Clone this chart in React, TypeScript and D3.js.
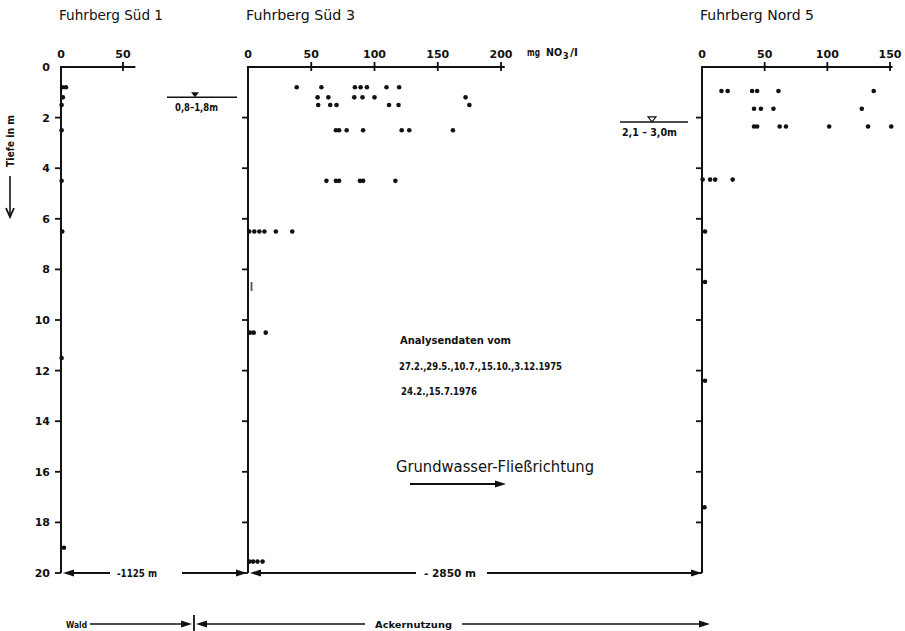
import React, { useEffect, useRef } from 'react';
import * as d3 from 'd3';

// depth axis (m)
const depthTicks = [0, 2, 4, 6, 8, 10, 12, 14, 16, 18, 20];

// NO3 axis ticks per well (mg NO3/l)
const sued1Ticks = [0, 50];
const sued3Ticks = [0, 50, 100, 150, 200];
const nord5Ticks = [0, 50, 100, 150];

// measurements as [depth in m, mg NO3/l]
const sued1Points: [number, number][] = [
  [0.8, 4], [0.8, 1], [1.2, 1.5], [1.5, 0.5], [2.5, 0.5], [4.5, 0.5], [6.5, 1], [11.5, 0.5], [19.0, 2.4],
];
const sued3Points: [number, number][] = [
  [0.8, 38.5], [0.8, 58], [0.8, 84.5], [0.8, 89], [0.8, 94], [0.8, 109.5], [0.8, 119.5],
  [1.2, 55], [1.2, 63.5], [1.2, 84], [1.2, 90.5], [1.2, 100], [1.2, 172],
  [1.5, 55.5], [1.5, 65], [1.5, 70], [1.5, 111.5], [1.5, 119], [1.5, 175],
  [2.5, 69.5], [2.5, 72], [2.5, 78], [2.5, 91], [2.5, 121.5], [2.5, 127.5], [2.5, 162],
  [4.5, 62], [4.5, 69.5], [4.5, 72], [4.5, 88.5], [4.5, 91], [4.5, 116.5],
  [6.5, 1], [6.5, 5], [6.5, 9], [6.5, 13], [6.5, 22], [6.5, 35],
  [10.5, 1.5], [10.5, 4.5], [10.5, 14],
  [19.55, 1], [19.55, 4], [19.55, 7.5], [19.55, 11.5],
];
// the faint vertical mark in Süd 3 around 8.5–8.9 m, [from depth, to depth, mg NO3/l]
const sued3Mark: [number, number, number] = [8.5, 8.85, 2.8];

const nord5Points: [number, number][] = [
  [0.95, 15.5], [0.95, 20.5], [0.95, 40], [0.95, 44], [0.95, 61], [0.95, 137],
  [1.65, 41.5], [1.65, 47], [1.65, 57], [1.65, 127.5],
  [2.35, 41.5], [2.35, 44], [2.35, 62], [2.35, 67], [2.35, 101.5], [2.35, 132.5], [2.35, 151],
  [4.45, 0.5], [4.45, 6.5], [4.45, 10.5], [4.45, 24.5],
  [6.5, 2.4], [8.5, 2.4], [12.4, 2.4], [17.4, 2],
];

const wellNames = ['Fuhrberg Süd 1', 'Fuhrberg Süd 3', 'Fuhrberg Nord 5'];
const waterLevels = ['0,8–1,8m', '2,1 – 3,0m'];
const waterLevelDepths = [1.2, 2.17];
const distances = ['-1125 m', '- 2850 m'];
const landUse = ['Wald', 'Ackernutzung'];
const noteLines = ['Analysendaten vom', '27.2.,29.5.,10.7.,15.10.,3.12.1975', '24.2.,15.7.1976'];
const flowLabel = 'Grundwasser-Fließrichtung';

const INK = '#111';
const FONT = "'DejaVu Sans', sans-serif";

const App = () => {
  const svgRef = useRef<SVGSVGElement>(null);

  useEffect(() => {
    const svg = d3.select(svgRef.current);
    svg.selectAll('*').remove();

    const y = d3.scaleLinear().domain([0, 20]).range([67, 573]);
    const xS1 = d3.scaleLinear().domain([0, 60]).range([61, 135.4]);
    const xS3 = d3.scaleLinear().domain([0, 203]).range([248, 504.8]);
    const xN5 = d3.scaleLinear().domain([0, 152]).range([702, 892.5]);

    const text = (x: number, yy: number, s: string, size: number, opts: any = {}) => {
      const t = svg.append('text')
        .attr('x', x).attr('y', yy)
        .attr('font-family', FONT)
        .attr('font-size', size)
        .attr('font-weight', opts.bold ? 'bold' : 'normal')
        .attr('fill', INK)
        .attr('text-anchor', opts.anchor || 'start')
        .text(s);
      if (opts.width) t.attr('textLength', opts.width).attr('lengthAdjust', 'spacingAndGlyphs');
      return t;
    };

    const line = (x1: number, y1: number, x2: number, y2: number, w = 1.8) =>
      svg.append('line')
        .attr('x1', x1).attr('y1', y1).attr('x2', x2).attr('y2', y2)
        .attr('stroke', INK).attr('stroke-width', w);

    // filled arrow head with its tip at (x, yy); dir = 1 points right, -1 points left
    const head = (x: number, yy: number, dir: number) =>
      svg.append('polygon')
        .attr('points', [[x, yy], [x - dir * 11, yy - 3.5], [x - dir * 11, yy + 3.5]].map(p => p.join(',')).join(' '))
        .attr('fill', INK);

    const panels = [
      { title: wellNames[0], x: xS1, ticks: sued1Ticks, pts: sued1Points, tw: 104, depthLabels: true },
      { title: wellNames[1], x: xS3, ticks: sued3Ticks, pts: sued3Points, tw: 109, depthLabels: false },
      { title: wellNames[2], x: xN5, ticks: nord5Ticks, pts: nord5Points, tw: 114, depthLabels: false },
    ];

    panels.forEach(p => {
      const x0 = p.x(0);
      const xEnd = p.x.range()[1];

      text(x0 - 2, 20, p.title, 13.5, { width: p.tw });

      // top NO3 axis
      line(x0 - 1, y(0), xEnd, y(0), 2);
      p.ticks.forEach(t => {
        if (t > 0) line(p.x(t), y(0) - 5, p.x(t), y(0) + 4, 1.8);
        text(p.x(t), 58, String(t), 11, { bold: true, anchor: 'middle' });
      });

      // depth axis
      line(x0, y(0) - 1, x0, y(20), 2);
      depthTicks.forEach(d => {
        if (d > 0) line(x0 - 6, y(d), x0, y(d), 1.8);
        if (p.depthLabels) text(x0 - 11, y(d) + 4, String(d), 11, { bold: true, anchor: 'end' });
      });

      svg.append('g').selectAll('circle')
        .data(p.pts)
        .join('circle')
        .attr('cx', d => p.x(d[1]))
        .attr('cy', d => y(d[0]))
        .attr('r', 2.3)
        .attr('fill', INK);
    });

    // faint mark in Süd 3
    line(xS3(sued3Mark[2]), y(sued3Mark[0]), xS3(sued3Mark[2]), y(sued3Mark[1]), 1.8).attr('stroke', '#555');

    // unit label
    text(527, 56, 'mg', 10, { bold: true, width: 13 });
    text(546, 56, 'NO', 10, { bold: true, width: 16 });
    text(563, 59, '3', 8, { bold: true });
    text(570, 56, '/l', 10, { bold: true, width: 8 });

    // depth axis title and arrow
    text(0, 0, 'Tiefe in m', 10.5, { bold: true, anchor: 'middle', width: 52 })
      .attr('transform', `translate(14,141) rotate(-90)`);
    line(10, 176, 10, 216, 1.6);
    svg.append('path')
      .attr('d', 'M6,208 L10,217 L14,208')
      .attr('fill', 'none').attr('stroke', INK).attr('stroke-width', 1.8);

    // groundwater levels
    const wl1 = y(waterLevelDepths[0]);
    line(167, wl1, 237, wl1, 1.5);
    svg.append('polygon')
      .attr('points', `191,${wl1 - 5} 199,${wl1 - 5} 195,${wl1}`)
      .attr('fill', INK);
    text(175, wl1 + 14, waterLevels[0], 10, { bold: true, width: 43 });

    const wl2 = y(waterLevelDepths[1]);
    line(620, wl2, 688, wl2, 1.5);
    svg.append('polygon')
      .attr('points', `648,${wl2 - 5} 656,${wl2 - 5} 652,${wl2}`)
      .attr('fill', 'none').attr('stroke', INK).attr('stroke-width', 1.2);
    text(622, wl2 + 14, waterLevels[1], 10, { bold: true, width: 55 });

    // distances between wells
    const yb = y(20);
    const a = xS1(0), b = xS3(0), c = xN5(0);
    head(a + 2, yb, -1); line(a + 10, yb, 110, yb, 2);
    text(137, yb + 4, distances[0], 10, { bold: true, anchor: 'middle', width: 40 });
    line(182, yb, b - 9, yb, 2); head(b - 1, yb, 1);
    head(b + 2, yb, -1); line(b + 10, yb, 416, yb, 2);
    text(450, yb + 4, distances[1], 10, { bold: true, anchor: 'middle', width: 52 });
    line(487, yb, c - 9, yb, 2); head(c, yb, 1);

    // land use
    const yl = 624;
    text(66, yl + 3.5, landUse[0], 9.5, { bold: true, width: 21 });
    line(90, yl, 184, yl, 1.6); head(192, yl, 1);
    line(194, 615, 194, 631, 1.8);
    head(196, yl, -1); line(205, yl, 365, yl, 1.6);
    text(375, yl + 3.5, landUse[1], 9.5, { bold: true, width: 77 });
    line(462, yl, 702, yl, 1.6); head(710, yl, 1);

    // notes
    text(400, 344, noteLines[0], 10.5, { bold: true, width: 111 });
    text(399, 370, noteLines[1], 10.5, { bold: true, width: 163 });
    text(401, 395, noteLines[2], 10.5, { bold: true, width: 76 });
    text(396, 472, flowLabel, 15, { width: 198 });
    line(410, 484, 496, 484, 2); head(506, 484, 1);
  }, []);

  return (
    <svg
      ref={svgRef}
      width={905}
      height={631}
      style={{ position: 'absolute', left: 0, top: 0, background: '#fff' }}
    />
  );
};

export default App;
